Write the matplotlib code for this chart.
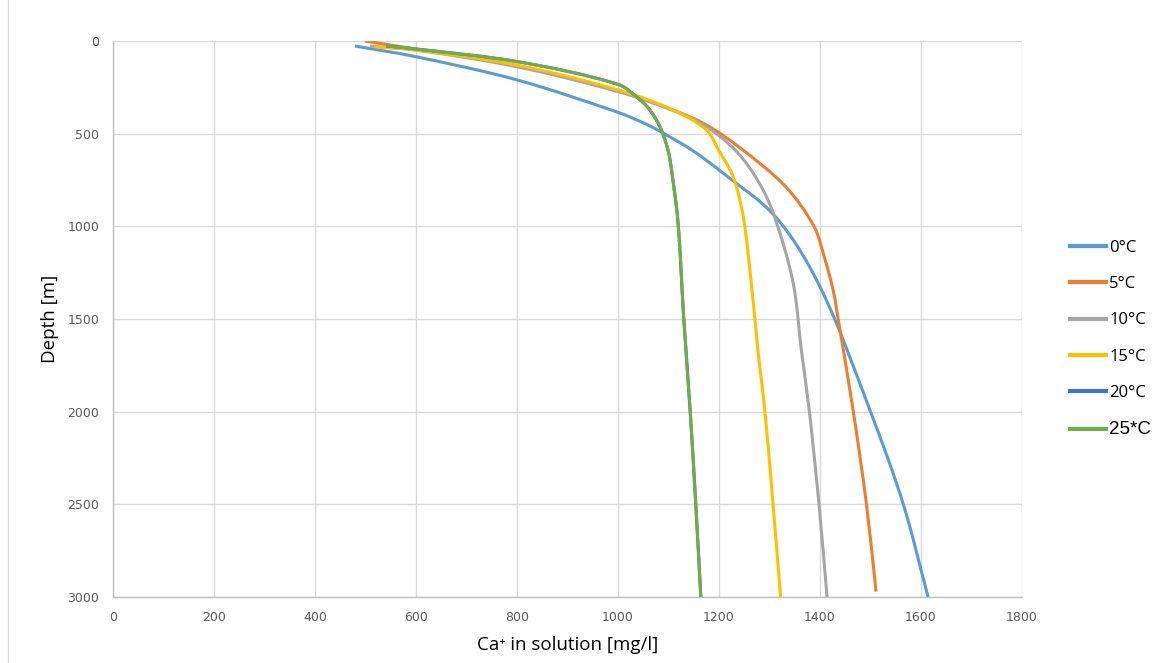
import matplotlib
matplotlib.use("Agg")
import numpy as np
import matplotlib.pyplot as plt
from matplotlib.lines import Line2D
from matplotlib.path import Path
from matplotlib.patches import PathPatch

labels = ["0°C", "5°C", "10°C", "15°C", "20°C", "25*C"]
colors = ["#5B9BD5", "#ED7D31", "#A5A5A5", "#FFC000", "#4472C4", "#70AD47"]

ca_0 = [479, 600, 800, 1000, 1057, 1090, 1146, 1200, 1314, 1403, 1500, 1565, 1614]
depth_0 = [27, 85, 210, 385, 450, 498, 588, 696, 955, 1343, 2000, 2500, 3000]

ca_5 = [499, 600, 800, 1000, 1109, 1175, 1242, 1332, 1388, 1409, 1426, 1434, 1466, 1492, 1511]
depth_5 = [0, 44, 134, 270, 372, 453, 577, 786, 1000, 1170, 1343, 1468, 2000, 2500, 2971]

ca_10 = [509, 600, 800, 1000, 1109, 1175, 1236, 1280, 1310, 1347, 1363, 1379, 1398, 1414]
depth_10 = [27, 49, 139, 273, 375, 462, 600, 768, 948, 1307, 1667, 2000, 2500, 3000]

ca_15 = [517, 600, 800, 1000, 1109, 1175, 1199, 1228, 1248, 1264, 1277, 1291, 1307, 1322]
depth_15 = [31, 49, 130, 264, 372, 480, 588, 732, 948, 1307, 1667, 2000, 2500, 3000]

ca_20 = [541, 600, 800, 1000, 1044, 1063, 1083, 1099, 1106, 1119, 1130, 1143, 1154, 1164]
depth_20 = [27, 43, 111, 234, 318, 372, 462, 588, 696, 984, 1488, 2000, 2500, 3000]

ca_25 = [541, 600, 800, 1000, 1044, 1063, 1083, 1099, 1106, 1119, 1130, 1143, 1154, 1164]
depth_25 = [27, 43, 111, 234, 318, 372, 462, 588, 696, 984, 1488, 2000, 2500, 3000]

xticks = [0, 200, 400, 600, 800, 1000, 1200, 1400, 1600, 1800]
yticks = [0, 500, 1000, 1500, 2000, 2500, 3000]

series = [(ca_0, depth_0), (ca_5, depth_5), (ca_10, depth_10),
          (ca_15, depth_15), (ca_20, depth_20), (ca_25, depth_25)]

fig = plt.figure(figsize=(11.68, 6.63), dpi=100)
ax = fig.add_axes([113/1168, 1 - 597/663, (1022-113)/1168, (597-41)/663])
ax.set_xlim(0, 1800)
ax.set_ylim(3000, 0)


def smooth_path(x, y):
    """Smoothed line (like a spreadsheet 'smoothed line') through the given points."""
    pts = ax.transData.transform(np.column_stack([x, y]))
    n = len(pts)
    verts = [pts[0]]
    codes = [Path.MOVETO]
    for i in range(n - 1):
        p0 = pts[i - 1] if i > 0 else pts[i]
        p1 = pts[i]
        p2 = pts[i + 1]
        p3 = pts[i + 2] if i + 2 < n else pts[i + 1]
        seg = np.linalg.norm(p2 - p1)
        t1 = p2 - p0
        t2 = p3 - p1
        n1 = np.linalg.norm(t1)
        n2 = np.linalg.norm(t2)
        d1 = t1 / n1 if n1 > 0 else np.zeros(2)
        d2 = t2 / n2 if n2 > 0 else np.zeros(2)
        c1 = p1 + d1 * seg / 3.0
        c2 = p2 - d2 * seg / 3.0
        verts += [c1, c2, p2]
        codes += [Path.CURVE4] * 3
    verts = ax.transData.inverted().transform(np.array(verts))
    return Path(verts, codes)


handles = []
for (x, y), c, lab in zip(series, colors, labels):
    patch = PathPatch(smooth_path(x, y), facecolor="none", edgecolor=c, lw=2.2,
                      capstyle="butt", zorder=3)
    ax.add_patch(patch)
    handles.append(Line2D([], [], color=c, lw=3, label=lab))

ax.set_xticks(xticks)
ax.set_yticks(yticks)
ax.grid(True, color="#D9D9D9", lw=1.0, zorder=0)
ax.set_axisbelow(True)
for s in ["top", "right"]:
    ax.spines[s].set_visible(False)
for s in ["left", "bottom"]:
    ax.spines[s].set_color("#BFBFBF")
    ax.spines[s].set_linewidth(1.0)
ax.tick_params(length=0, labelsize=9, labelcolor="#595959", pad=10)
for t in ax.get_xticklabels() + ax.get_yticklabels():
    t.set_family("DejaVu Sans")

ax.set_xlabel("Ca⁺ in solution [mg/l]", fontsize=13.5,
              family=["Open Sans", "DejaVu Sans"], labelpad=9)
ax.set_ylabel("Depth [m]", fontsize=13.5, family=["Open Sans", "DejaVu Sans"], labelpad=6)

leg = fig.legend(handles=handles, labels=labels, loc="center left",
                 bbox_to_anchor=(1055/1168, 1 - 339/663), frameon=False,
                 handlelength=2.15, handletextpad=0.2, labelspacing=1.22,
                 prop={"family": "Open Sans", "size": 12})
leg.get_texts()[5].set_family("Liberation Sans")
leg.get_texts()[5].set_fontsize(13.5)

fig.add_artist(Line2D([8/1168, 8/1168], [0, 1], color="#D9D9D9", lw=1.0))

fig.savefig("out.png", dpi=100)
